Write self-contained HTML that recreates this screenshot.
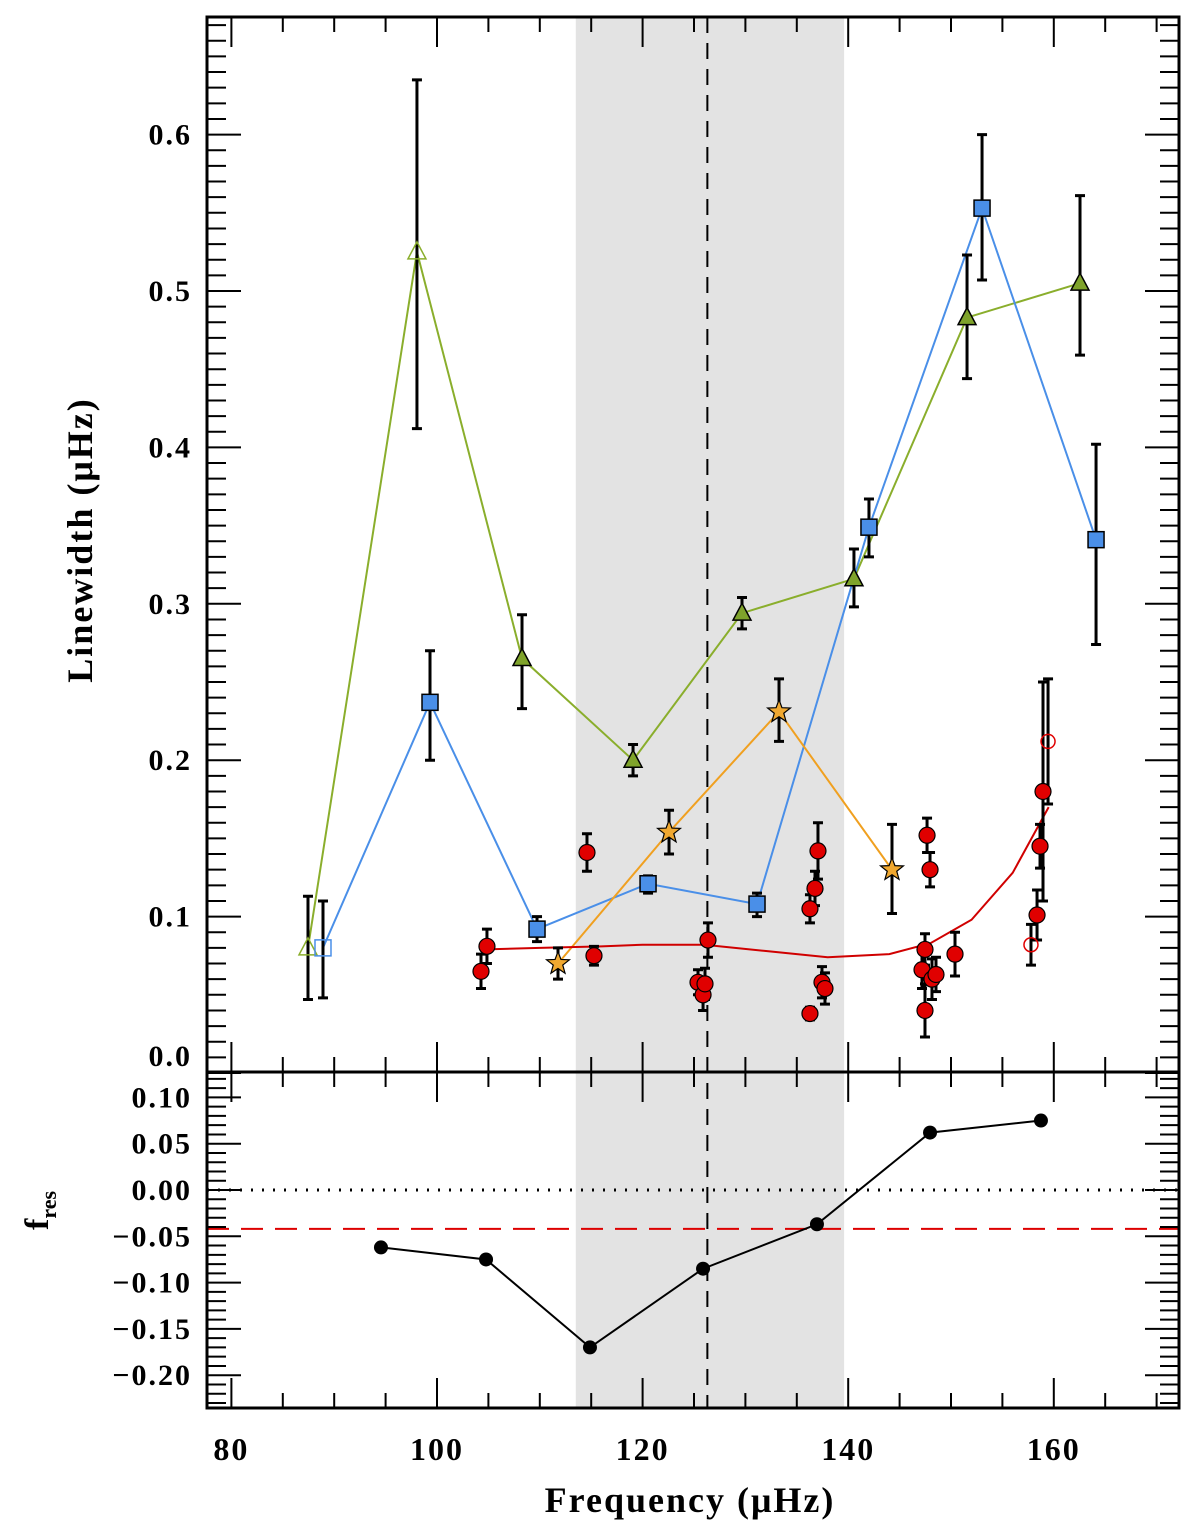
<!DOCTYPE html>
<html><head><meta charset="utf-8"><style>
body{margin:0;background:#fff}
svg text{font-family:"Liberation Serif",serif;font-weight:bold;fill:#000}
</style></head><body>
<svg id="c" width="1200" height="1529" viewBox="0 0 1200 1529" xmlns="http://www.w3.org/2000/svg"></svg>
<script>
const greenF=[87.45,98.05,108.27,119.07,129.67,140.56,151.56,162.55];
const greenV=[0.08,0.525,0.265,0.2,0.294,0.316,0.483,0.505];
const greenLo=[0.047,0.412,0.233,0.19,0.284,0.298,0.444,0.459];
const greenHi=[0.113,0.635,0.293,0.21,0.304,0.335,0.523,0.561];
const greenOpen=[true,true,false,false,false,false,false,false];
const blueF=[88.91,99.32,109.73,120.53,131.13,142.02,153.02,164.11];
const blueV=[0.08,0.237,0.092,0.121,0.108,0.349,0.553,0.341];
const blueLo=[0.048,0.2,0.084,0.115,0.1,0.33,0.507,0.274];
const blueHi=[0.11,0.27,0.1,0.126,0.115,0.367,0.6,0.402];
const blueOpen=[true,false,false,false,false,false,false,false];
const starF=[111.77,122.57,133.27,144.26];
const starV=[0.07,0.154,0.231,0.13];
const starLo=[0.06,0.14,0.212,0.102];
const starHi=[0.08,0.168,0.252,0.159];
const redF=[104.28,104.86,114.59,115.27,125.39,125.88,126.07,126.36,136.28,136.28,136.77,137.06,137.45,137.74,147.18,147.47,147.47,147.67,147.96,148.15,148.54,150.39,158.37,158.66,158.95];
const redV=[0.065,0.081,0.141,0.075,0.058,0.05,0.057,0.085,0.038,0.105,0.118,0.142,0.058,0.054,0.066,0.079,0.04,0.152,0.13,0.06,0.063,0.076,0.101,0.145,0.18];
const redErr=[0.011,0.011,0.012,0.006,0.008,0.01,0.01,0.011,0.004,0.009,0.011,0.018,0.01,0.01,0.012,0.01,0.017,0.011,0.011,0.013,0.011,0.014,0.016,0.014,0.07];
const redOpenF=[157.78,159.44];
const redOpenV=[0.082,0.212];
const redOpenErr=[0.013,0.04];
const fitF=[104.3,110,116,120,126,132,138,144,148,152,156,159.5];
const fitV=[0.079,0.08,0.081,0.082,0.082,0.078,0.074,0.076,0.083,0.098,0.128,0.17];
const resF=[94.55,104.77,114.88,125.88,136.96,147.96,158.75];
const resV=[-0.062,-0.075,-0.17,-0.085,-0.037,0.062,0.075];
const xTicks=[80,100,120,140,160];
const yTopTicks=[0,0.1,0.2,0.3,0.4,0.5,0.6];
const yBotTicks=[0.10,0.05,0.00,-0.05,-0.10,-0.15,-0.20];

const L=207,R=1179,T=17,MID=1072,B=1408;
const X=f=>437+(f-100)*10.28;
const Y=v=>1073-v*1564;
const Y2=v=>1190-v*926;
const svg=document.getElementById('c');
const NS='http://www.w3.org/2000/svg';
function el(t,a,p){const e=document.createElementNS(NS,t);for(const k in a)e.setAttribute(k,a[k]);(p||svg).appendChild(e);return e;}

let e;
e=el('rect',{x:X(113.5),y:T,width:X(139.6)-X(113.5),height:B-T,fill:'#e3e3e3'});


e=el('line',{x1:X(126.3),x2:X(126.3),y1:T,y2:B,stroke:'#000','stroke-width':2,'stroke-dasharray':'16,10'});


e=el('line',{x1:L,x2:R,y1:Y2(0),y2:Y2(0),stroke:'#000','stroke-width':3,'stroke-dasharray':'2,9'});


e=el('line',{x1:L,x2:R,y1:Y2(-0.042),y2:Y2(-0.042),stroke:'#d00','stroke-width':2,'stroke-dasharray':'22,12'});



const tk=[];
for(let f=80;f<=175;f+=5){if(X(f)>R)continue;const maj=f%20==0;const len=maj?30:15;
 [[T,1],[MID,-1],[MID,1],[B,-1]].forEach(([y0,d])=>{tk.push(`M${X(f)},${y0}v${d*len}`);});}
for(let i=0;i<=67;i++){const v=i/100;const len=i%10==0?34:19;
 tk.push(`M${L},${Y(v)}h${len}`,`M${R},${Y(v)}h${-len}`);}
for(let i=-23;i<=12;i++){const v=i/100;const len=i%5==0?34:19;
 if(Y2(v)<MID||Y2(v)>B)continue;
 tk.push(`M${L},${Y2(v)}h${len}`,`M${R},${Y2(v)}h${-len}`);}
e=el('path',{d:tk.join(''),stroke:'#000','stroke-width':2,fill:'none'});



function errbar(x,lo,hi,name,w){const g=el('path',{d:`M${x},${lo}V${hi}M${x-5},${lo}h10M${x-5},${hi}h10`,stroke:'#000','stroke-width':w||3,fill:'none'});
 
 }
function line(F,V,col,name,yf){const p=el('polyline',{points:F.map((f,i)=>X(f)+','+(yf||Y)(V[i])).join(' '),fill:'none',stroke:col,'stroke-width':2});
 
 }

line(greenF,greenV,'#8aae2c','green-line');
line(blueF,blueV,'#4a8fe8','blue-line');
line(starF,starV,'#f0a020','orange-line');
line(fitF,fitV,'#d00000','red-fit-curve');

greenF.forEach((f,i)=>errbar(X(f),Y(greenLo[i]),Y(greenHi[i]),'green-errorbar'));
blueF.forEach((f,i)=>errbar(X(f),Y(blueLo[i]),Y(blueHi[i]),'blue-errorbar'));
starF.forEach((f,i)=>errbar(X(f),Y(starLo[i]),Y(starHi[i]),'star-errorbar'));
redF.forEach((f,i)=>errbar(X(f),Y(redV[i]-redErr[i]),Y(redV[i]+redErr[i]),'red-errorbar'));
redOpenF.forEach((f,i)=>errbar(X(f),Y(redOpenV[i]-redOpenErr[i]),Y(redOpenV[i]+redOpenErr[i]),'red-open-errorbar'));

greenF.forEach((f,i)=>{const x=X(f),y=Y(greenV[i]);
 const m=el('polygon',{points:`${x},${y-10} ${x-9},${y+7} ${x+9},${y+7}`,fill:greenOpen[i]?'none':'#7fa32b',stroke:greenOpen[i]?'#8aae2c':'#000','stroke-width':1.5});
 
 });
blueF.forEach((f,i)=>{const x=X(f),y=Y(blueV[i]);
 const m=el('rect',{x:x-8,y:y-8,width:16,height:16,fill:blueOpen[i]?'none':'#4a8fe8',stroke:blueOpen[i]?'#4a8fe8':'#000','stroke-width':1.5});
 
 });
starF.forEach((f,i)=>{const x=X(f),y=Y(starV[i]);let pts=[];
 for(let k=0;k<10;k++){const r=k%2?5:12,a=-Math.PI/2+k*Math.PI/5;pts.push((x+r*Math.cos(a))+','+(y+r*Math.sin(a)));}
 const m=el('polygon',{points:pts.join(' '),fill:'#f0a830',stroke:'#000','stroke-width':1.2});
 
 });
redF.forEach((f,i)=>{const m=el('circle',{cx:X(f),cy:Y(redV[i]),r:8,fill:'#e00000',stroke:'#000','stroke-width':1.2});
 
 });
redOpenF.forEach((f,i)=>{const m=el('circle',{cx:X(f),cy:Y(redOpenV[i]),r:7,fill:'none',stroke:'#e00000','stroke-width':1.5});
 
 });

line(resF,resV,'#000','residual-line',Y2);
resF.forEach((f,i)=>{const m=el('circle',{cx:X(f),cy:Y2(resV[i]),r:7,fill:'#000'});
 
 });

e=el('path',{d:`M${L},${T}H${R}V${B}H${L}ZM${L},${MID}H${R}`,fill:'none',stroke:'#000','stroke-width':3});



yTopTicks.forEach(v=>{const t=el('text',{x:192,y:(v==0?1056:Y(v))+10,'text-anchor':'end','font-size':30,'letter-spacing':2});t.textContent=v.toFixed(1);
 
 });
yBotTicks.forEach(v=>{const t=el('text',{x:192,y:Y2(v)+10,'text-anchor':'end','font-size':30,'letter-spacing':2});t.textContent=(v<0?'\u2212':'')+Math.abs(v).toFixed(2);
 
 });
xTicks.forEach(f=>{const t=el('text',{x:X(f),y:1460,'text-anchor':'middle','font-size':32,'letter-spacing':2});t.textContent=f;
 
 });
e=el('text',{x:690,y:1512,'text-anchor':'middle','font-size':36,'letter-spacing':2});e.textContent='Frequency (μHz)';


e=el('text',{x:0,y:0,'text-anchor':'middle','font-size':36,'letter-spacing':2,transform:'translate(92,540) rotate(-90)'});e.textContent='Linewidth (μHz)';


e=el('text',{x:0,y:0,'font-size':34,transform:'translate(48,1230) rotate(-90)'});e.innerHTML='f<tspan font-size="22" dy="8">res</tspan>';


</script>
</body></html>
